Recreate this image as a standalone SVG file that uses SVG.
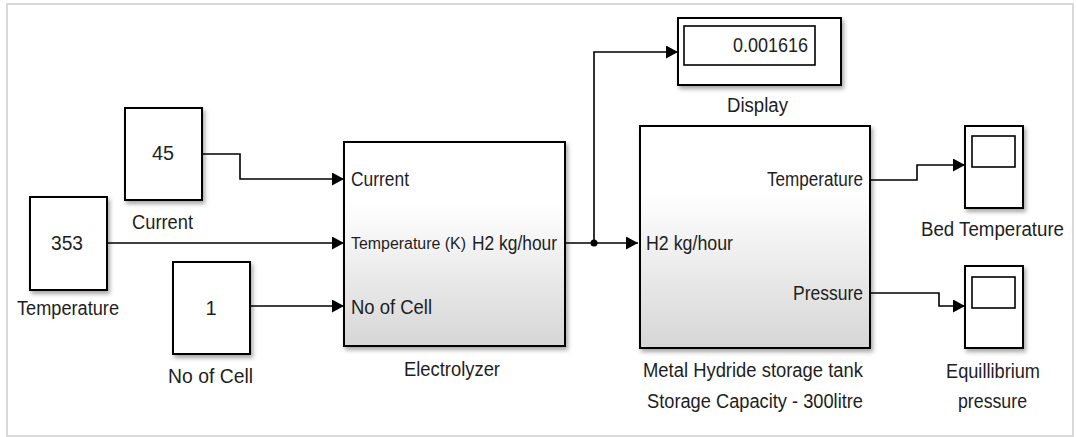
<svg xmlns="http://www.w3.org/2000/svg" width="1077" height="437" viewBox="0 0 1077 437">
<style>
.t{font-family:"Liberation Sans",Arial,sans-serif;font-size:20px;fill:#1e1e1e}
.s{font-size:16px}
.blk{fill:#ffffff;stroke:#000;stroke-width:2}
.sub{fill:url(#g);stroke:#000;stroke-width:2}
.in{fill:none;stroke:#000;stroke-width:1.6}
.w{fill:none;stroke:#000;stroke-width:1.6}
</style>
<defs>
<linearGradient id="g" x1="0" y1="0" x2="0" y2="1">
<stop offset="0" stop-color="#ffffff"/>
<stop offset="0.3" stop-color="#ffffff"/>
<stop offset="1" stop-color="#d6d6d6"/>
</linearGradient>
<filter id="sh" x="-10%" y="-10%" width="130%" height="130%">
<feDropShadow dx="2" dy="3" stdDeviation="2" flood-color="#000" flood-opacity="0.35"/>
</filter>
<marker id="a" markerUnits="userSpaceOnUse" markerWidth="12" markerHeight="13" refX="12" refY="6.5" orient="auto">
<path d="M0,0 L12,6.5 L0,13 z" fill="#000"/>
</marker>
</defs>
<rect x="0" y="0" width="1077" height="437" fill="#fff"/>
<rect x="7" y="4" width="1066" height="432" fill="none" stroke="#d9d9d9" stroke-width="2"/>

<g id="connectors">
<path class="w" d="M202,154 H240 V179 H344" marker-end="url(#a)"/>
<path class="w" d="M107,243 H344" marker-end="url(#a)"/>
<path class="w" d="M250,306 H344" marker-end="url(#a)"/>
<path class="w" d="M565,243 H638" marker-end="url(#a)"/>
<path class="w" d="M594,243 V52 H678" marker-end="url(#a)"/>
<circle cx="594" cy="243" r="3.5" fill="#000"/>
<path class="w" d="M870,180 H917 V165 H965" marker-end="url(#a)"/>
<path class="w" d="M870,293 H939 V306 H965" marker-end="url(#a)"/>
</g>

<g id="current">
<rect class="blk" x="125" y="108" width="77" height="92" filter="url(#sh)"/>
<text class="t" x="152" y="160" textLength="22" lengthAdjust="spacingAndGlyphs">45</text>
<text class="t" x="132" y="229" textLength="61" lengthAdjust="spacingAndGlyphs">Current</text>
</g>

<g id="temperature">
<rect class="blk" x="30" y="197" width="77" height="93" filter="url(#sh)"/>
<text class="t" x="51" y="250" textLength="32" lengthAdjust="spacingAndGlyphs">353</text>
<text class="t" x="17" y="315" textLength="102" lengthAdjust="spacingAndGlyphs">Temperature</text>
</g>

<g id="noofcell">
<rect class="blk" x="173" y="262" width="77" height="92" filter="url(#sh)"/>
<text class="t" x="211" y="315" text-anchor="middle">1</text>
<text class="t" x="168" y="383" textLength="85" lengthAdjust="spacingAndGlyphs">No of Cell</text>
</g>

<g id="electrolyzer">
<rect class="sub" x="344" y="142" width="221" height="204" filter="url(#sh)"/>
<text class="t" x="351" y="186" textLength="58" lengthAdjust="spacingAndGlyphs">Current</text>
<text class="t s" x="351" y="249" textLength="115" lengthAdjust="spacingAndGlyphs">Temperature (K)</text>
<text class="t" x="472" y="250" textLength="85" lengthAdjust="spacingAndGlyphs">H2 kg/hour</text>
<text class="t" x="351" y="314" textLength="81" lengthAdjust="spacingAndGlyphs">No of Cell</text>
<text class="t" x="404" y="376" textLength="96" lengthAdjust="spacingAndGlyphs">Electrolyzer</text>
</g>

<g id="display">
<rect class="blk" x="678" y="18" width="163" height="67" filter="url(#sh)"/>
<rect class="in" x="684" y="26" width="131" height="39"/>
<text class="t" x="733" y="52" textLength="75" lengthAdjust="spacingAndGlyphs" fill="#23234a">0.001616</text>
<text class="t" x="727" y="112" textLength="61" lengthAdjust="spacingAndGlyphs">Display</text>
</g>

<g id="metalhydride">
<rect class="sub" x="640" y="126" width="230" height="222" filter="url(#sh)"/>
<text class="t" x="767" y="186" textLength="96" lengthAdjust="spacingAndGlyphs">Temperature</text>
<text class="t" x="646" y="250" textLength="87" lengthAdjust="spacingAndGlyphs">H2 kg/hour</text>
<text class="t" x="793" y="300" textLength="70" lengthAdjust="spacingAndGlyphs">Pressure</text>
<text class="t" x="643" y="377" textLength="220" lengthAdjust="spacingAndGlyphs">Metal Hydride storage tank</text>
<text class="t" x="647" y="408" textLength="216" lengthAdjust="spacingAndGlyphs">Storage Capacity - 300litre</text>
</g>

<g id="bedtemperature">
<rect class="blk" x="965" y="126" width="58" height="82" filter="url(#sh)"/>
<rect class="in" x="972" y="136" width="43" height="31"/>
<text class="t" x="921" y="236" textLength="143" lengthAdjust="spacingAndGlyphs">Bed Temperature</text>
</g>

<g id="equilibrium">
<rect class="blk" x="965" y="266" width="58" height="82" filter="url(#sh)"/>
<rect class="in" x="972" y="277" width="43" height="31"/>
<text class="t" x="946" y="378" textLength="94" lengthAdjust="spacingAndGlyphs">Equillibrium</text>
<text class="t" x="958" y="408" textLength="69" lengthAdjust="spacingAndGlyphs">pressure</text>
</g>
</svg>
